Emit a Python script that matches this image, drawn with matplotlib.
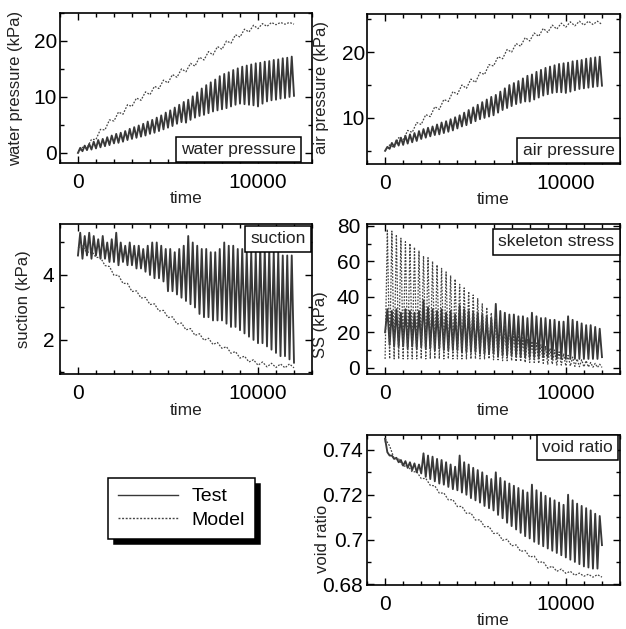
import numpy as np
import matplotlib
matplotlib.use('Agg')
import matplotlib.pyplot as plt
from matplotlib.ticker import MultipleLocator, FixedLocator, FuncFormatter

plt.rcParams['font.family'] = ['Liberation Sans', 'DejaVu Sans']

# time grid: test cycles (troughs / peaks), model cycles
t_test_lo = np.arange(0, 12001, 250)
t_test_hi = np.arange(125, 12000, 250)
t_model_lo = np.arange(0, 12001, 500)
t_model_hi = np.arange(250, 12000, 500)

# water pressure (kPa)
water_test_lo = [0.0, 0.3, 0.5, 0.6, 0.8, 1.0, 1.2, 1.4,
                 1.7, 1.8, 2.0, 2.3, 2.5, 2.7, 2.9, 3.1,
                 3.4, 3.6, 3.9, 4.2, 4.5, 4.8, 5.2, 5.5,
                 5.4, 5.9, 6.3, 6.6, 6.8, 7.1, 7.4, 7.6,
                 7.8, 8.0, 8.3, 8.6, 8.8, 8.7, 8.6, 8.5,
                 8.3, 8.8, 9.2, 9.4, 9.5, 9.7, 9.8, 10.0, 10.2]
water_test_hi = [0.9, 1.3, 1.6, 2.0, 2.3, 2.5, 2.8, 3.1,
                 3.4, 3.6, 3.9, 4.3, 4.6, 4.9, 5.2, 5.6,
                 5.9, 6.3, 6.7, 7.2, 7.6, 8.1, 8.6, 9.1,
                 9.5, 10.1, 10.8, 11.5, 12.1, 12.6, 13.1, 13.7,
                 14.1, 14.4, 14.8, 15.1, 15.4, 15.6, 15.8, 16.0,
                 16.1, 16.3, 16.4, 16.6, 16.7, 16.9, 17.0, 17.2]
water_model_lo = [0.0, 0.9, 2.4, 4.1, 5.7, 6.9, 8.3, 9.4, 10.4, 11.5, 12.5, 13.5, 14.5,
                  15.5, 16.6, 17.5, 18.5, 19.6, 20.7, 21.6, 22.2, 22.6, 22.9, 23.0, 23.0]
water_model_hi = [1.0, 2.4, 4.2, 5.9, 7.3, 8.6, 9.8, 10.9, 11.9, 13.0, 14.0, 15.0,
                  16.0, 17.1, 18.1, 19.0, 20.0, 21.1, 22.1, 22.8, 23.1, 23.3, 23.3, 23.3]

# air pressure (kPa)
air_test_lo = [5.0, 5.3, 5.6, 5.8, 5.9, 6.1, 6.3, 6.5,
               6.8, 7.0, 7.2, 7.4, 7.5, 7.7, 7.9, 8.1,
               8.4, 8.7, 8.9, 9.2, 9.5, 9.8, 10.0, 10.2,
               10.4, 10.8, 11.2, 11.5, 11.8, 12.1, 12.3, 12.5,
               12.5, 12.8, 13.1, 13.4, 13.6, 13.8, 13.9, 13.9,
               13.8, 14.0, 14.2, 14.4, 14.5, 14.6, 14.7, 14.8, 14.9]
air_test_hi = [5.6, 6.2, 6.6, 7.0, 7.3, 7.5, 7.7, 8.0,
               8.3, 8.5, 8.7, 9.0, 9.3, 9.5, 9.8, 10.1,
               10.4, 10.8, 11.2, 11.6, 12.0, 12.4, 12.8, 13.2,
               13.5, 14.0, 14.5, 15.0, 15.3, 15.6, 16.0, 16.4,
               16.6, 17.0, 17.3, 17.6, 17.8, 18.0, 18.2, 18.3,
               18.4, 18.6, 18.7, 18.8, 19.0, 19.1, 19.2, 19.3]
air_model_lo = [5.0, 5.5, 6.6, 7.8, 9.0, 10.2, 11.3, 12.5, 13.6, 14.5, 15.4, 16.6, 17.9,
                19.0, 20.0, 20.9, 21.7, 22.4, 23.0, 23.5, 23.8, 24.0, 24.1, 24.2, 24.2]
air_model_hi = [5.9, 7.0, 8.1, 9.3, 10.5, 11.7, 12.8, 14.0, 15.0, 15.9, 16.9, 18.1,
                19.3, 20.4, 21.3, 22.2, 22.9, 23.6, 24.1, 24.4, 24.6, 24.7, 24.7, 24.7]

# suction (kPa)
suction_test_lo = [4.6, 4.5, 4.6, 4.5, 4.6, 4.5, 4.5, 4.4,
                   4.4, 4.3, 4.4, 4.3, 4.3, 4.2, 4.2, 4.1,
                   4.0, 3.9, 3.9, 3.8, 3.5, 3.5, 3.4, 3.3,
                   3.2, 3.1, 3.0, 2.8, 2.7, 2.7, 2.6, 2.6,
                   2.6, 2.5, 2.4, 2.4, 2.3, 2.2, 2.1, 2.0,
                   1.9, 1.9, 1.8, 1.7, 1.6, 1.5, 1.5, 1.4, 1.3]
suction_test_hi = [5.3, 5.2, 5.3, 5.2, 5.1, 5.2, 5.0, 5.1,
                   5.3, 5.0, 4.9, 5.0, 4.9, 4.9, 4.8, 4.9,
                   5.0, 5.0, 4.9, 4.8, 4.8, 4.7, 4.8, 4.9,
                   5.2, 5.0, 4.9, 4.8, 4.8, 4.7, 4.7, 4.8,
                   5.0, 4.9, 4.9, 4.8, 4.8, 4.7, 4.7, 4.7,
                   4.9, 4.8, 4.8, 4.7, 4.7, 4.6, 4.6, 4.6]
suction_model_lo = [4.84, 4.69, 4.54, 4.29, 3.99, 3.74, 3.49, 3.29, 3.09, 2.89, 2.69, 2.49, 2.31,
                    2.14, 1.99, 1.86, 1.74, 1.59, 1.44, 1.32, 1.22, 1.17, 1.15, 1.14, 1.14]
suction_model_hi = [4.89, 4.74, 4.54, 4.26, 3.99, 3.74, 3.51, 3.31, 3.11, 2.91, 2.71, 2.52,
                    2.35, 2.19, 2.05, 1.92, 1.79, 1.64, 1.50, 1.39, 1.32, 1.28, 1.26, 1.26]

# skeleton stress (kPa)
ss_test_lo = [20, 13, 12, 12, 12, 11, 12, 11,
              12, 11, 11, 10, 11, 10, 10, 10,
              10, 9, 9, 9, 9, 8, 8, 8,
              8, 7, 7, 7, 7, 7, 6, 6,
              6, 6, 6, 6, 6, 5, 5, 5,
              5, 5, 5, 5, 5, 5, 5, 5, 6]
ss_test_hi = [33, 32, 33, 31, 33, 32, 31, 32,
              38, 34, 33, 32, 33, 31, 32, 30,
              35, 33, 32, 31, 31, 30, 29, 28,
              36, 32, 31, 30, 30, 29, 29, 28,
              31, 29, 28, 28, 27, 27, 26, 26,
              29, 27, 26, 25, 24, 24, 23, 22]
ss_model_lo = [5, 5, 5, 5, 5, 5, 5, 5,
               5, 5, 5, 5, 5, 5, 5, 5,
               5, 5, 5, 5, 5, 5, 5, 5,
               4.5, 4.5, 4, 4, 4, 3.5, 3.5, 3,
               3, 3, 2.5, 2.5, 2, 2, 1.5, 1.5,
               1, 1, 0.8, 0.6, 0.5, 0.4, 0.3, 0.2, 0.2]
ss_model_hi = [78, 77, 75, 73, 71, 70, 68, 66,
               63, 62, 60, 58, 56, 54, 52, 50,
               47, 45, 43, 41, 39, 36, 34, 31,
               29, 27, 25, 23, 21, 19, 17, 16,
               15, 14, 13, 12, 11, 10, 9, 8,
               7, 6, 5, 4.5, 4, 3, 2.5, 2]

# void ratio
void_test_lo = [0.745, 0.7375, 0.7360, 0.7345, 0.7330, 0.7320, 0.7310, 0.7300,
                0.7295, 0.7280, 0.7270, 0.7260, 0.7250, 0.7245, 0.7235, 0.7225,
                0.7220, 0.7210, 0.7200, 0.7185, 0.7175, 0.7165, 0.7150, 0.7140,
                0.7130, 0.7110, 0.7095, 0.7075, 0.7060, 0.7045, 0.7030, 0.7015,
                0.7005, 0.6990, 0.6980, 0.6970, 0.6960, 0.6950, 0.6940, 0.6930,
                0.6920, 0.6910, 0.6900, 0.6890, 0.6880, 0.6875, 0.6870, 0.6870, 0.6975]
void_test_hi = [0.7390, 0.7375, 0.7365, 0.7355, 0.7350, 0.7345, 0.7340, 0.7335,
                0.7385, 0.7375, 0.7370, 0.7360, 0.7355, 0.7345, 0.7335, 0.7325,
                0.7375, 0.7345, 0.7335, 0.7320, 0.7310, 0.7300, 0.7285, 0.7270,
                0.7300, 0.7275, 0.7260, 0.7250, 0.7240, 0.7230, 0.7220, 0.7210,
                0.7245, 0.7220, 0.7210, 0.7195, 0.7185, 0.7175, 0.7165, 0.7155,
                0.7200, 0.7175, 0.7160, 0.7150, 0.7140, 0.7130, 0.7115, 0.7105]
void_model_lo = [0.745, 0.7362, 0.7327, 0.7302, 0.7272, 0.7242, 0.7207, 0.7177, 0.7147,
                 0.7117, 0.7087, 0.7057, 0.7027, 0.6997, 0.6972, 0.6947, 0.6922, 0.6897,
                 0.6872, 0.6858, 0.6849, 0.6840, 0.6836, 0.6832, 0.6832]
void_model_hi = [0.7418, 0.7360, 0.7330, 0.7303, 0.7273, 0.7240, 0.7208, 0.7178, 0.7148,
                 0.7118, 0.7088, 0.7058, 0.7028, 0.7001, 0.6976, 0.6951, 0.6926, 0.6901,
                 0.6881, 0.6868, 0.6858, 0.6850, 0.6845, 0.6843]


def zigzag(t_lo, lo, t_hi, hi):
    # interleave troughs and peaks into one cyclic trace
    t = np.empty(len(lo) + len(hi))
    v = np.empty(len(lo) + len(hi))
    t[0::2], t[1::2] = t_lo, t_hi
    v[0::2], v[1::2] = lo, hi
    return t, v


TEST_STYLE = dict(color='#383838', lw=1.35, ls='-')
MODEL_STYLE = dict(color='#444444', lw=0.9, ls=(0, (1.4, 1.2)))

fig = plt.figure(figsize=(6.26, 6.29), dpi=100)

panels = [
    # rect, test, model, ylabel, ylim, yticks, yminor, box text, box pos, box va,
    # ylabel position, ytick pad
    ([0.0958, 0.7409, 0.4026, 0.2385],
     (water_test_lo, water_test_hi), (t_model_lo, water_model_lo, t_model_hi, water_model_hi),
     'water pressure (kPa)', (-1.8, 25), [0, 10, 20], 5,
     'water pressure', (0.935, 0.04), 'bottom', (-0.145, 0.5), 2),
    ([0.5863, 0.7393, 0.4042, 0.2385],
     (air_test_lo, air_test_hi), (t_model_lo, air_model_lo, t_model_hi, air_model_hi),
     'air pressure (kPa)', (3, 25.8), [10, 20], 5,
     'air pressure', (0.978, 0.04), 'bottom', (-0.15, 0.51), 1.5),
    ([0.0958, 0.4054, 0.4026, 0.2385],
     (suction_test_lo, suction_test_hi), (t_model_lo, suction_model_lo, t_model_hi, suction_model_hi),
     'suction (kPa)', (0.95, 5.57), [2, 4], 1,
     'suction', (0.976, 0.95), 'top', (-0.115, 0.5), 4),
    ([0.5863, 0.4054, 0.4042, 0.2385],
     (ss_test_lo, ss_test_hi), (t_test_lo, ss_model_lo, t_test_hi, ss_model_hi),
     'SS (kPa)', (-3.5, 81), [0, 20, 40, 60, 80], 10,
     'skeleton stress', (0.978, 0.93), 'top', (-0.155, 0.33), 5),
    ([0.5863, 0.0700, 0.4042, 0.2385],
     (void_test_lo, void_test_hi), (t_model_lo, void_model_lo, t_model_hi, void_model_hi),
     'void ratio', (0.6797, 0.7467), [0.68, 0.70, 0.72, 0.74], 0.01,
     'void ratio', (0.972, 0.965), 'top', (-0.145, 0.31), 3),
]

handles = None
for rect, test, model, ylab, ylim, yticks, yminor, box, bpos, bva, labpos, ypad in panels:
    ax = fig.add_axes(rect)
    tt, tv = zigzag(t_test_lo, test[0], t_test_hi, test[1])
    mt, mv = zigzag(*model)
    l_test, = ax.plot(tt, tv, **TEST_STYLE, label='Test')
    l_model, = ax.plot(mt, mv, **MODEL_STYLE, label='Model')
    handles = [l_test, l_model]

    ax.set_xlim(-1000, 13000)
    ax.set_ylim(*ylim)
    ax.xaxis.set_major_locator(FixedLocator([0, 10000]))
    ax.xaxis.set_minor_locator(MultipleLocator(1000))
    ax.yaxis.set_major_locator(FixedLocator(yticks))
    ax.yaxis.set_minor_locator(MultipleLocator(yminor))
    ax.yaxis.set_major_formatter(FuncFormatter(lambda v, p: '%g' % round(v, 4)))
    ax.tick_params(which='both', direction='in', top=True, right=True, width=1.0)
    ax.tick_params(which='major', length=5)
    ax.tick_params(which='minor', length=3)
    ax.tick_params(axis='x', which='major', labelsize=15, pad=7)
    ax.tick_params(axis='y', which='major', labelsize=15, pad=ypad)
    for sp in ax.spines.values():
        sp.set_linewidth(1.2)

    ax.set_ylabel(ylab, fontsize=12, color='#222222')
    ax.yaxis.set_label_coords(*labpos)
    ax.set_xlabel('time', fontsize=12.5, color='#222222', va='top')
    ax.xaxis.set_label_coords(0.5, -0.19)

    ax.text(bpos[0], bpos[1], box, transform=ax.transAxes, ha='right', va=bva,
            fontsize=12.5, color='#222222', zorder=5,
            bbox=dict(boxstyle='square,pad=0.3', fc='white', ec='black', lw=1.1))

leg = fig.legend(handles=handles, labels=['Test', 'Model'], loc='upper left',
                 bbox_to_anchor=(108 / 626, 1 - 478 / 629), fontsize=14,
                 fancybox=False, frameon=True, edgecolor='black', framealpha=1,
                 handlelength=3.1, handletextpad=0.7, labelspacing=0.3,
                 borderpad=0.5, borderaxespad=0,
                 shadow={'ox': 4, 'oy': -4, 'facecolor': 'black',
                         'edgecolor': 'black', 'alpha': 1})
leg.get_frame().set_linewidth(1.1)
for line in leg.get_lines():
    line.set_linewidth(1.0)

fig.savefig('out.png', dpi=100)
